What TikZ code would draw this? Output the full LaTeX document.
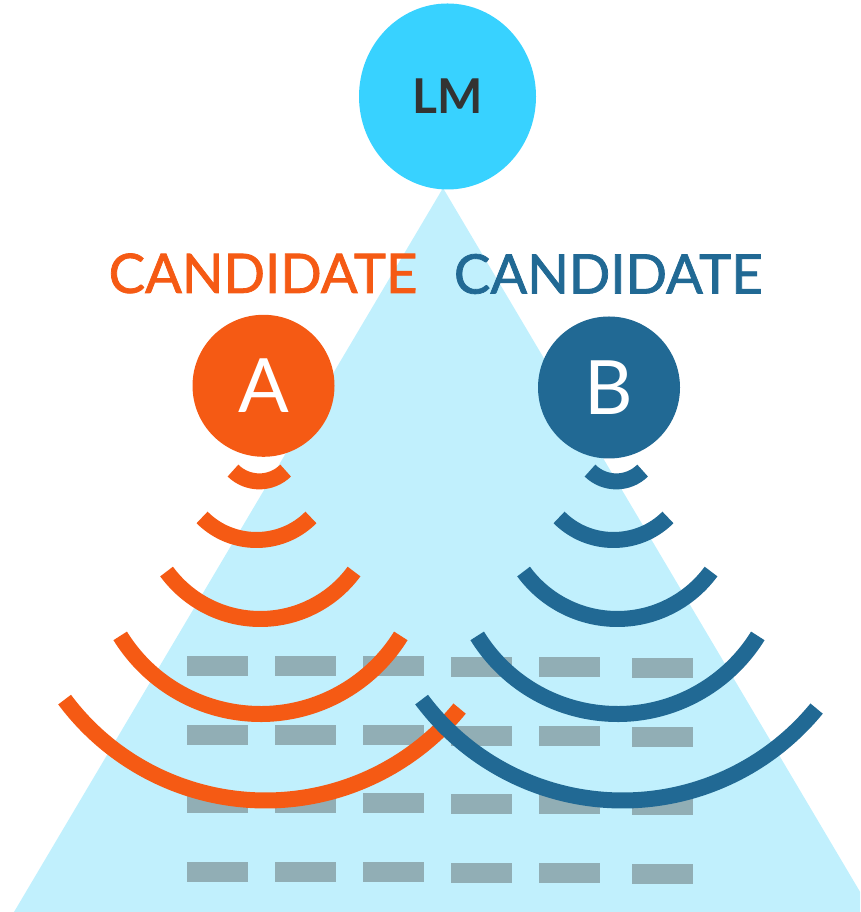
\documentclass[tikz,border=0pt]{standalone}
\usepackage{fontspec}
\setmainfont{Lato}
\newfontfamily\candfont[FakeBold=1.4]{Lato}
\usetikzlibrary{shapes.geometric}
\definecolor{lmblue}{HTML}{38D2FF}
\definecolor{pyramid}{HTML}{C1F0FD}
\definecolor{candorange}{HTML}{F55A14}
\definecolor{candblue}{HTML}{216994}
\definecolor{token}{HTML}{91AEB5}
\definecolor{lmtext}{HTML}{333333}
\begin{document}
\begin{tikzpicture}[x=1pt,y=1pt,
	wave/.style={line width=16pt},
	cand/.style={circle,minimum size=142pt,inner sep=0pt,text=white,font=\fontsize{75}{75}\selectfont},
	candlabel/.style={font=\candfont\fontsize{54.5}{54.5}\selectfont}]
			\clip (0,0) rectangle (860,912);
			\fill[pyramid] (443,724) -- (14,0) -- (872,0) -- cycle;
			\foreach \ry in {256,187,119,50}
				\foreach \cx/\dy in {187/0,275/0,363/0.5,451/1,539/1,632/2}
					\fill[token] (\cx,\ry-\dy) rectangle ++(60.5,-20);
		
			\node[ellipse,fill=lmblue,minimum width=177pt,minimum height=186pt,inner sep=0pt,text=lmtext,font=\fontsize{48}{48}\selectfont\bfseries] (lm) at (447.5,815.5) {LM};
			\node[cand,fill=candorange] (a) at (263.5,526.2) {A};
			\node[cand,fill=candblue] (b) at (609,524.5) {B};
			\node[candlabel,text=candorange] (candA) at (263,638.6) {CANDIDATE};
			\node[candlabel,text=candblue] (candB) at (608.3,638) {CANDIDATE};
		
			\foreach \s/\c in {0/candorange,357/candblue}
				\foreach \cx/\cy/\r/\sa/\ea in {259.3/468/37.4/225.3/314.7, 256.5/449/77/225/315, 260.3/409.3/116.3/216.3/323.7, 260.5/363.1/165.1/211.8/328.2, 265.6/362.2/250.7/216.7/320.7}
					\draw[wave,\c] (\cx+\s,\cy) ++(\sa:\r) arc[start angle=\sa,end angle=\ea,radius=\r];
		\end{tikzpicture}
\end{document}
